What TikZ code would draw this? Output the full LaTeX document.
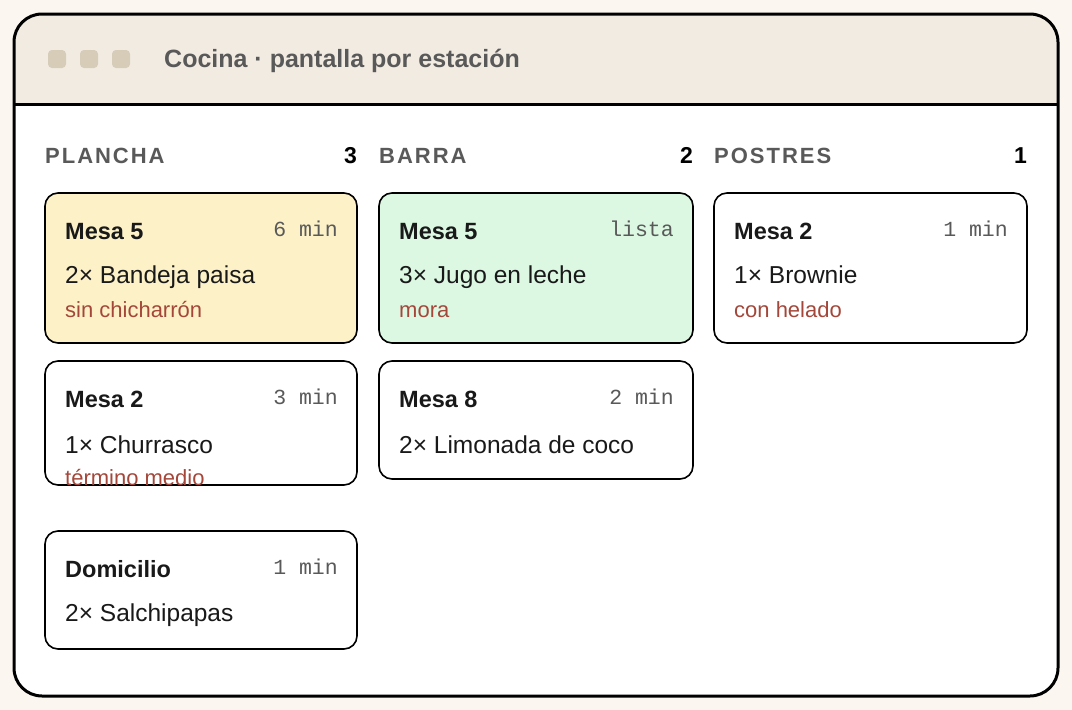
\documentclass[tikz,border=0pt]{standalone}
\usepackage{fontspec}
\setmainfont{Liberation Sans}
\setmonofont{Liberation Mono}
\newfontfamily\spaced[LetterSpace=9]{Liberation Sans}
\begin{document}
\begin{tikzpicture}[x=1pt,y=-1pt,every node/.style={inner sep=0pt},
  card/.style={draw=black,line width=1.6pt,rounded corners=13pt},
  ttl/.style={anchor=base west,font=\fontsize{23.5}{26}\selectfont\bfseries,text=black!90},
  tm/.style={anchor=base east,font=\fontsize{21.5}{24}\ttfamily,text=black!65},
  item/.style={anchor=base west,font=\fontsize{24.5}{27}\selectfont,text=black!90},
  note/.style={anchor=base west,font=\fontsize{22}{24}\selectfont,text=noteC},
  head/.style={anchor=base west,font=\spaced\fontsize{22}{24}\selectfont\bfseries,text=black!65},
  cnt/.style={anchor=base east,font=\fontsize{23}{24}\selectfont\bfseries,text=black},
  dot/.style={fill=dotC,rounded corners=4pt}]
\definecolor{bgC}{HTML}{FBF6F0}
\definecolor{barC}{HTML}{F2EBE1}
\definecolor{dotC}{HTML}{D6CCB8}
\definecolor{noteC}{HTML}{A4473A}
\definecolor{yelC}{HTML}{FDF1C8}
\definecolor{grnC}{HTML}{DCF8E3}
\fill[bgC] (0,0) rectangle (1072,710);
\useasboundingbox (0,0) rectangle (1072,710);
\fill[white,rounded corners=28pt] (14,14) rectangle (1058,696);
\fill[barC,rounded corners=28pt] (14,14) rectangle (1058,80);
\fill[barC] (14,60) rectangle (1058,104);
\draw[line width=3pt] (14,104) -- (1058,104);
\draw[line width=3pt,rounded corners=28pt] (14,14) rectangle (1058,696);
\foreach \x in {57,89,121}{\fill[dot] (\x-9,50) rectangle (\x+9,68);}
\node[anchor=base west,font=\fontsize{25}{27}\selectfont\bfseries,text=black!65] (title) at (164,67) {Cocina · pantalla por estación};
% headings
\node[head] (h1) at (45,163) {PLANCHA}; \node[cnt] (c1) at (357,163) {3};
\node[head] (h2) at (379,163) {BARRA}; \node[cnt] (c2) at (693,163) {2};
\node[head] (h3) at (714,163) {POSTRES}; \node[cnt] (c3) at (1027,163) {1};
% col1
\draw[card,fill=yelC] (45,193) rectangle (357,343);
\node[ttl] (a1) at (65,239) {Mesa 5}; \node[tm] (a1t) at (338,236) {6 min};
\node[item] (a1i) at (65,283) {2× Bandeja paisa};
\node[note] (a1n) at (65,317) {sin chicharrón};
\draw[card,fill=white] (45,361) rectangle (357,485);
\node[ttl] (a2) at (65,407) {Mesa 2}; \node[tm] (a2t) at (338,404) {3 min};
\node[item] (a2i) at (65,453) {1× Churrasco};
\node[note] (a2n) at (65,485) {término medio};
\draw[card,fill=white] (45,531) rectangle (357,649);
\node[ttl] (a3) at (65,577) {Domicilio}; \node[tm] (a3t) at (338,574) {1 min};
\node[item] (a3i) at (65,621) {2× Salchipapas};
% col2
\draw[card,fill=grnC] (379,193) rectangle (693,343);
\node[ttl] (b1) at (399,239) {Mesa 5}; \node[tm] (b1t) at (674,236) {lista};
\node[item] (b1i) at (399,283) {3× Jugo en leche};
\node[note] (b1n) at (399,317) {mora};
\draw[card,fill=white] (379,361) rectangle (693,479);
\node[ttl] (b2) at (399,407) {Mesa 8}; \node[tm] (b2t) at (674,404) {2 min};
\node[item] (b2i) at (399,453) {2× Limonada de coco};
% col3
\draw[card,fill=white] (714,193) rectangle (1027,343);
\node[ttl] (d1) at (734,239) {Mesa 2}; \node[tm] (d1t) at (1008,236) {1 min};
\node[item] (d1i) at (734,283) {1× Brownie};
\node[note] (d1n) at (734,317) {con helado};
\end{tikzpicture}
\end{document}
